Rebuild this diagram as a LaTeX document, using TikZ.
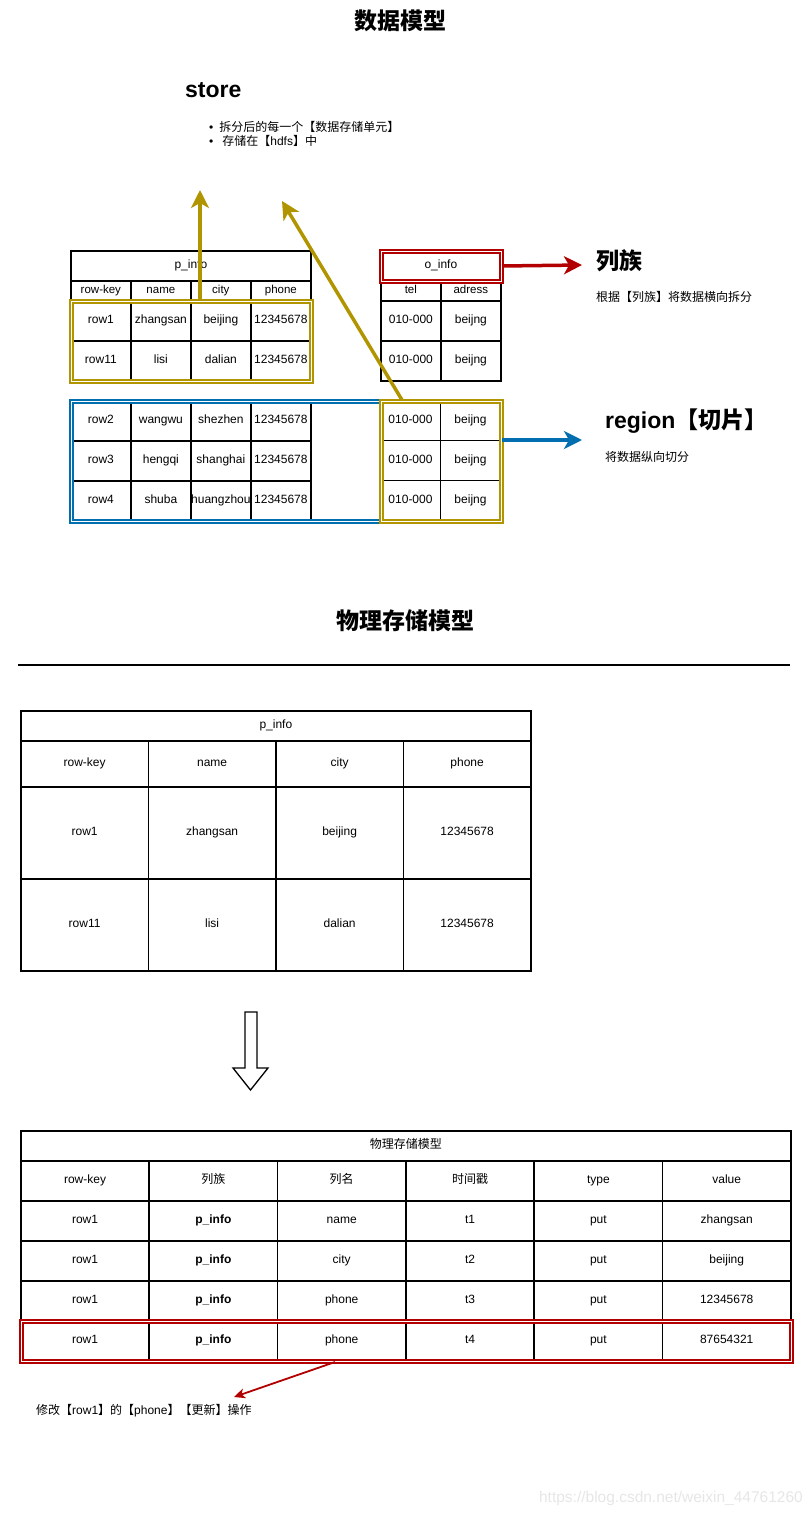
\documentclass[tikz,border=0pt]{standalone}
\usepackage{fontspec}
\setmainfont{Liberation Sans}
\newfontfamily\cjk{Noto Sans CJK SC}
\usetikzlibrary{arrows.meta}
\definecolor{gold}{HTML}{B09500}
\definecolor{rblue}{HTML}{006EAF}
\definecolor{rred}{HTML}{B20000}
\definecolor{wmark}{HTML}{E6E6E6}
\begin{document}
\begin{tikzpicture}[x=1pt,y=-1pt,
  cell/.style={draw, line width=1.7pt, inner sep=0pt, anchor=north west, text height=8.6pt, text depth=2.4pt, font=\fontsize{12}{14}\selectfont},
  hcell/.style={cell, font=\fontsize{11.5}{13}\selectfont},
  dbl/.style={line width=2pt, double=white, double distance=1pt, inner sep=0pt, anchor=north west},
  big/.style={font=\fontsize{23}{26}\selectfont\bfseries, inner sep=0pt},
  small/.style={font=\fontsize{12}{14}\selectfont, inner sep=0pt, anchor=west},
  fatarrow/.style={line width=3.5pt, -{Stealth[length=18pt,width=18pt,inset=5pt]}},
]
\useasboundingbox (0,0) rectangle (811,1517);

% ---------- titles ----------
\node[big] (t1) at (400,21) {\cjk 数据模型};
\node[big, anchor=west] (store) at (185,90) {store};
\node[small] (sb1) at (209,127) {•\hspace{6pt}{\cjk 拆分后的每一个【数据存储单元】}};
\node[small] (sb2) at (209,141) {•\hspace{9pt}{\cjk 存储在【}hdfs{\cjk 】中}};

% ---------- p_info (top) ----------
\node[cell, minimum width=240, minimum height=30] (ptitle) at (70,250) {p\_info};
\foreach \t [count=\i from 0] in {row-key,name,city,phone}
  \node[hcell, minimum width=60, minimum height=20] (ph\i) at (70+60*\i,280) {\t};
\foreach \a/\b/\c/\d [count=\k] in {row1/zhangsan/beijing/12345678, row11/lisi/dalian/12345678}{
  \node[cell, minimum width=60, minimum height=40] (pa\k a) at (70,260+40*\k) {\a};
  \node[cell, minimum width=60, minimum height=40] (pa\k b) at (130,260+40*\k) {\b};
  \node[cell, minimum width=60, minimum height=40] (pa\k c) at (190,260+40*\k) {\c};
  \node[cell, minimum width=60, minimum height=40] (pa\k d) at (250,260+40*\k) {\d};
}
\foreach \a/\b/\c/\d [count=\k] in {row2/wangwu/shezhen/12345678, row3/hengqi/shanghai/12345678, row4/shuba/huangzhou/12345678}{
  \node[cell, minimum width=60, minimum height=40] (pr\k a) at (70,360+40*\k) {\a};
  \node[cell, minimum width=60, minimum height=40] (pr\k b) at (130,360+40*\k) {\b};
  \node[cell, minimum width=60, minimum height=40] (pr\k c) at (190,360+40*\k) {\c};
  \node[cell, minimum width=60, minimum height=40] (pr\k d) at (250,360+40*\k) {\d};
}

% ---------- o_info ----------
\node[cell, minimum width=120, minimum height=30] (otitle) at (380,250) {o\_info};
\node[hcell, minimum width=60, minimum height=20] (oh0) at (380,280) {tel};
\node[hcell, minimum width=60, minimum height=20] (oh1) at (440,280) {adress};
\foreach \k in {1,2}{
  \node[cell, minimum width=60, minimum height=40] (oa\k a) at (380,260+40*\k) {010-000};
  \node[cell, minimum width=60, minimum height=40] (oa\k b) at (440,260+40*\k) {beijng};
}
\foreach \k in {1,2,3}{
  \node[cell, line width=1pt, minimum width=60, minimum height=40] (or\k a) at (380,360+40*\k) {010-000};
  \node[cell, line width=1pt, minimum width=60, minimum height=40] (or\k b) at (440,360+40*\k) {beijng};
}

% ---------- highlight frames ----------
\node[dbl, draw=rred, minimum width=120, minimum height=30] (ofam) at (380,250) {};
\node[dbl, draw=rblue, minimum width=430, minimum height=120] (region) at (70,400) {};
\node[dbl, draw=gold, minimum width=240, minimum height=80] (store1) at (70,300) {};
\node[dbl, draw=gold, minimum width=120, minimum height=120] (store2) at (380,400) {};

% ---------- side labels ----------
\node[big, anchor=west] (fam) at (596,261) {\cjk 列族};
\node[small] (famtxt) at (596,297) {\cjk 根据【列族】将数据横向拆分};
\node[big, anchor=west] (reg) at (605,421) {region{\cjk\bfseries 【切片】}};
\node[small] (regtxt) at (605,457) {\cjk 将数据纵向切分};

% ---------- arrows ----------
\coordinate (s1) at (200,190);
\coordinate (s2) at (282,201);
\coordinate (famtip) at (582,265);
\coordinate (regtip) at (582,440);
\draw[fatarrow, draw=gold, fill=gold] (store1.north -| s1) -- (s1);
\draw[fatarrow, draw=gold, fill=gold] ([xshift=22pt]store2.north west) -- (s2);
\draw[fatarrow, draw=rred, fill=rred] (ofam.east) -- (famtip);
\draw[fatarrow, draw=rblue, fill=rblue] (region.east |- regtip) -- (regtip);

% ---------- physical model ----------
\node[big] (t2) at (405,621) {\cjk 物理存储模型};
\draw[line width=1.8pt] (18,665) -- (790,665);

\node[cell, minimum width=510, minimum height=30] (mtitle) at (20,710) {p\_info};
\foreach \t [count=\i from 0] in {row-key,name,city,phone}
  \node[cell, minimum width=127.5, minimum height=46] (mh\i) at (20+127.5*\i,740) {\t};
\foreach \a/\b/\c/\d [count=\k] in {row1/zhangsan/beijing/12345678, row11/lisi/dalian/12345678}{
  \node[cell, minimum width=127.5, minimum height=92] (m\k a) at (20,694+92*\k) {\a};
  \node[cell, minimum width=127.5, minimum height=92] (m\k b) at (147.5,694+92*\k) {\b};
  \node[cell, minimum width=127.5, minimum height=92] (m\k c) at (275,694+92*\k) {\c};
  \node[cell, minimum width=127.5, minimum height=92] (m\k d) at (402.5,694+92*\k) {\d};
}

% block arrow
\draw[line width=1.3pt, fill=white] (245,1012) -- (257,1012) -- (257,1068) -- (268,1068) -- (250.5,1090) -- (233,1068) -- (245,1068) -- cycle;

% ---------- bottom table ----------
\node[cell, minimum width=770, minimum height=30] (btitle) at (20,1130) {\cjk 物理存储模型};
\foreach \t [count=\i from 0] in {row-key,{\cjk 列族},{\cjk 列名},{\cjk 时间戳},type,value}
  \node[cell, minimum width=128.33, minimum height=40] (bh\i) at (20+128.33*\i,1160) {\t};
\foreach \c/\t/\v [count=\k] in {name/t1/zhangsan, city/t2/beijing, phone/t3/12345678, phone/t4/87654321}{
  \node[cell, minimum width=128.33, minimum height=40] (b\k a) at (20,1160+40*\k) {row1};
  \node[cell, minimum width=128.33, minimum height=40] (b\k b) at (148.33,1160+40*\k) {\bfseries p\_info};
  \node[cell, minimum width=128.33, minimum height=40] (b\k c) at (276.67,1160+40*\k) {\c};
  \node[cell, minimum width=128.33, minimum height=40] (b\k d) at (405,1160+40*\k) {\t};
  \node[cell, minimum width=128.33, minimum height=40] (b\k e) at (533.33,1160+40*\k) {put};
  \node[cell, minimum width=128.33, minimum height=40] (b\k f) at (661.67,1160+40*\k) {\v};
}
\node[dbl, draw=rred, minimum width=770, minimum height=40] (upd) at (20,1320) {};
\node[small, font=\fontsize{12}{14}\selectfont] (updtxt) at (36,1411) {{\cjk 修改【}row1{\cjk 】的【}phone{\cjk 】【更新】操作}};
\coordinate (updtip) at (234,1397);
\draw[rred, line width=1.8pt, -{Stealth[length=11pt,width=10pt,inset=3pt]}] (upd.south -| 335,0) -- (updtip);

% watermark
\node[font=\fontsize{15.5}{17}\selectfont, text=wmark, anchor=east, inner sep=0pt] (wm) at (803,1498) {https://blog.csdn.net/weixin\_44761260};
\end{tikzpicture}
\end{document}
